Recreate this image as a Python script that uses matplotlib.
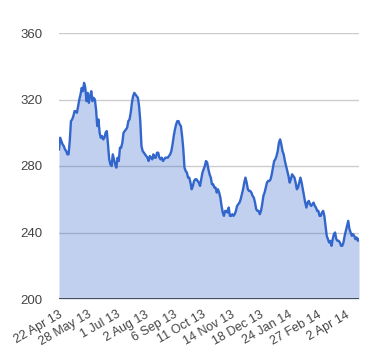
import matplotlib
matplotlib.use('Agg')
import matplotlib.pyplot as plt

# daily closing values, 22 Apr 2013 .. mid Apr 2014
prices = [
    290, 297, 295, 293, 292, 290, 289, 287, 287, 295,
    307, 308, 310, 313, 313, 312, 316, 320, 323, 327,
    325, 330, 327, 319, 324, 318, 322, 325, 319, 321,
    320, 314, 304, 308, 300, 297, 298, 296, 297, 300,
    301, 293, 284, 281, 280, 287, 284, 281, 279, 285,
    283, 291, 291, 294, 300, 301, 302, 303, 307, 308,
    312, 318, 322, 324, 323, 322, 321, 316, 307, 292,
    289, 288, 287, 286, 285, 283, 286, 285, 284, 287,
    285, 285, 288, 288, 285, 284, 285, 283, 284, 285,
    285, 285, 286, 287, 289, 293, 298, 302, 305, 307,
    307, 305, 304, 298, 290, 279, 277, 276, 273, 273,
    270, 266, 268, 271, 272, 272, 271, 270, 268, 272,
    276, 278, 280, 283, 282, 278, 275, 273, 269, 269,
    267, 267, 264, 266, 264, 261, 256, 252, 250, 253,
    253, 252, 255, 250, 250, 251, 250, 251, 253, 256,
    257, 258, 260, 263, 266, 270, 273, 270, 266, 265,
    265, 264, 262, 261, 258, 254, 253, 253, 251, 253,
    257, 262, 264, 267, 270, 271, 271, 272, 275, 279,
    283, 284, 286, 289, 294, 296, 293, 289, 287, 283,
    280, 277, 274, 270, 272, 275, 274, 273, 270, 266,
    267, 270, 273, 270, 266, 262, 258, 255, 258, 259,
    257, 256, 257, 258, 256, 255, 253, 253, 250, 250,
    252, 253, 250, 244, 238, 236, 234, 235, 232, 236,
    239, 240, 236, 235, 235, 234, 232, 232, 234, 238,
    241, 244, 247, 242, 240, 238, 239, 238, 236, 237,
    235, 236,
]
tick_labels = ['22 Apr 13', '28 May 13', '1 Jul 13', '2 Aug 13', '6 Sep 13',
               '11 Oct 13', '14 Nov 13', '18 Dec 13', '24 Jan 14', '27 Feb 14',
               '2 Apr 14']
y_ticks = [200, 240, 280, 320, 360]

plt.rcParams['font.family'] = ['Liberation Sans', 'DejaVu Sans']

fig = plt.figure(figsize=(3.8, 3.6), dpi=100)
ax = fig.add_axes([59 / 380, 1 - 299 / 360, 300 / 380, 266 / 360])

x = list(range(len(prices)))
# gridlines under the translucent fill
for v in y_ticks[1:]:
    ax.axhline(v, color='#cccccc', lw=1, zorder=0)
ax.fill_between(x, prices, 200, color='#3366cc', alpha=0.3, lw=0, zorder=1)
ax.plot(x, prices, color='#3366cc', lw=1.7, zorder=3)
ax.axhline(200, color='#333333', lw=1.2, zorder=4)

ax.set_xlim(0, len(prices) - 1)
ax.set_ylim(200, 360)
ax.set_yticks(y_ticks)
ax.set_xticks(range(0, len(prices), 24))
ax.set_xticklabels(tick_labels, rotation=30, ha='right', rotation_mode='anchor')
ax.tick_params(axis='y', length=0, pad=12, labelsize=9.5, labelcolor='#444444')
ax.tick_params(axis='x', length=0, pad=7, labelsize=9, labelcolor='#444444')
for s in ax.spines.values():
    s.set_visible(False)

fig.savefig('out.png', dpi=100)
